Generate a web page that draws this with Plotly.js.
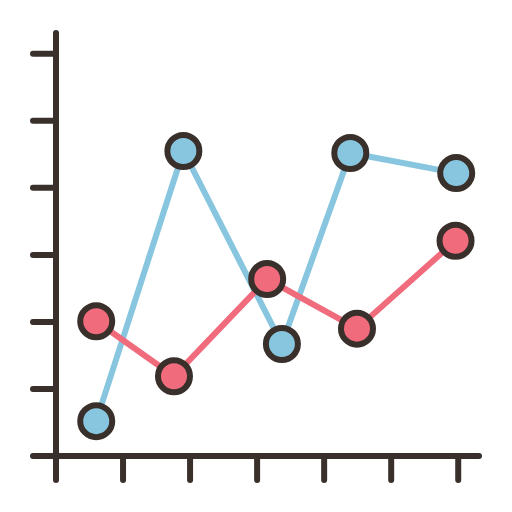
<!DOCTYPE html>
<html>
<head>
<meta charset="utf-8">
<script src="https://cdn.plot.ly/plotly-3.0.1.min.js"></script>
<style>
html,body{margin:0;padding:0;background:#fff;}
#chart{width:512px;height:512px;}
path.xlines-above, path.ylines-above, path.xtick, path.ytick {stroke-linecap: round; shape-rendering: auto !important;}
path.xlines-above, g.xaxislayer-above {transform: translate(0px, -3px);}
path.ylines-above, g.yaxislayer-above {transform: translate(3px, 0px);}
</style>
</head>
<body>
<div id="chart"></div>
<script>
var blueX = [0.60, 1.90, 3.37, 4.39, 5.97];
var blueY = [0.52, 4.55, 1.67, 4.52, 4.22];
var redX = [0.60, 1.76, 3.15, 4.49, 5.96];
var redY = [2.01, 1.19, 2.64, 1.90, 3.21];
var tickValues = [0, 1, 2, 3, 4, 5, 6];

var dark = '#3a302b';
var blue = '#88c6df';
var red = '#f06b7c';

var traces = [
  {x: blueX, y: blueY, mode: 'lines+markers', type: 'scatter', cliponaxis: false,
   line: {color: blue, width: 6},
   marker: {size: 32, color: blue, line: {color: dark, width: 6}}},
  {x: redX, y: redY, mode: 'lines+markers', type: 'scatter', cliponaxis: false,
   line: {color: red, width: 6},
   marker: {size: 32, color: red, line: {color: dark, width: 6}}}
];

function axis(len) {
  return {
    showline: true, linewidth: 6, linecolor: dark,
    ticks: 'outside', ticklen: len, tickwidth: 6, tickcolor: dark,
    tickvals: tickValues, showticklabels: false,
    showgrid: false, zeroline: false, fixedrange: true
  };
}

var layout = {
  width: 512, height: 512,
  margin: {l: 56, r: 33, t: 33, b: 56, autoexpand: false},
  paper_bgcolor: '#ffffff', plot_bgcolor: '#ffffff',
  showlegend: false,
  xaxis: Object.assign({range: [0, 6.31]}, axis(21)),
  yaxis: Object.assign({range: [0, 6.31]}, axis(20))
};

Plotly.newPlot('chart', traces, layout, {displayModeBar: false, staticPlot: true});
</script>
</body>
</html>
